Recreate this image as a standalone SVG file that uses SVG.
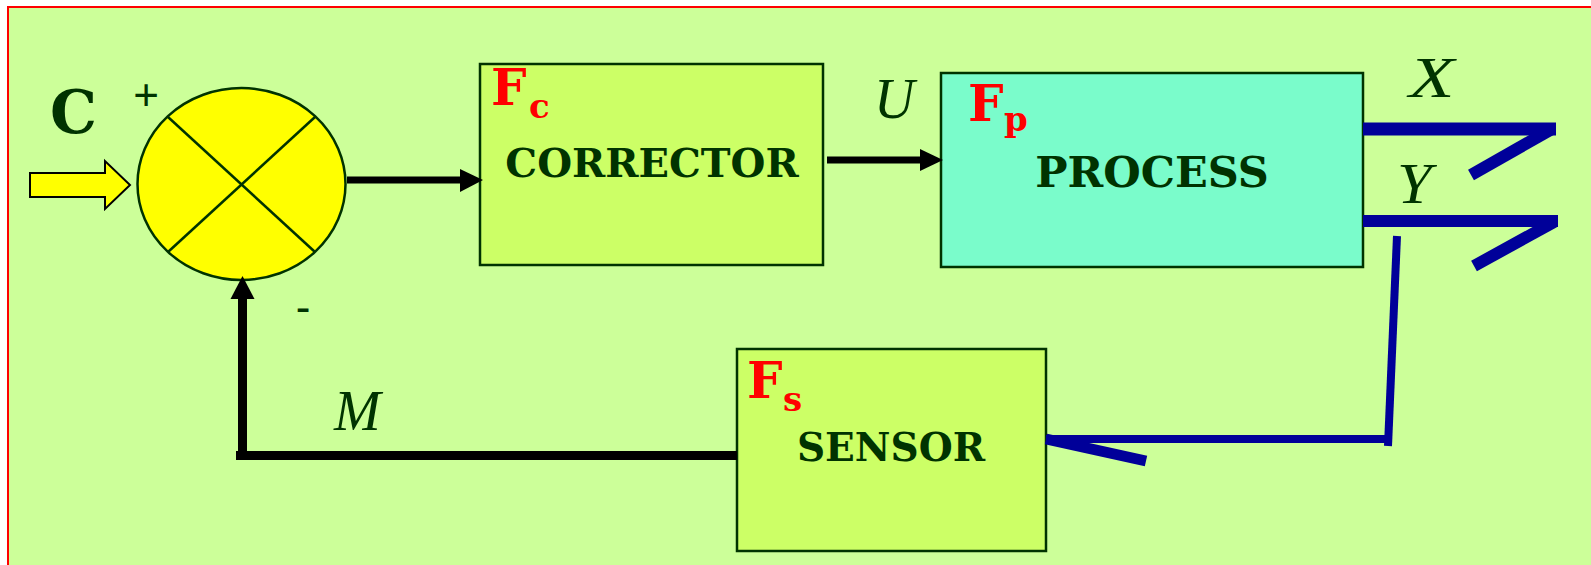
<svg xmlns="http://www.w3.org/2000/svg" width="1591" height="565" viewBox="0 0 1591 565">
<style>
.box{stroke:#003300;stroke-width:2.5}
.lbl{font-family:"DejaVu Serif","Liberation Serif",serif;font-weight:bold;fill:#003300}
.fn{font-family:"DejaVu Serif","Liberation Serif",serif;font-weight:bold;fill:#FF0000}
.var{font-family:"Liberation Serif","Times New Roman",serif;font-style:italic;fill:#003300;font-size:56px}
.sign{font-family:"Liberation Sans",Arial,sans-serif;fill:#003300}
.blk{stroke:#000000;fill:none}
.blu{stroke:#000099;fill:none}
</style>
<rect x="0" y="0" width="1591" height="565" fill="#FFFFFF"/>
<rect x="8" y="7" width="1600" height="600" fill="#CCFF99" stroke="#FF0000" stroke-width="2"/>

<g id="input">
<polygon points="30,173 105,173 105,161 130,185 105,209 105,197 30,197" fill="#FFFF00" stroke="#000000" stroke-width="2"/>
<text class="lbl" x="50" y="133" font-size="59">C</text>
<text class="sign" x="146" y="110" font-size="44" text-anchor="middle">+</text>
<text class="sign" x="303" y="322" font-size="44" text-anchor="middle">-</text>
</g>

<g id="summer">
<ellipse cx="241.5" cy="184" rx="104" ry="96" fill="#FFFF00" stroke="#003300" stroke-width="2.5"/>
<line x1="168" y1="117" x2="315" y2="252" stroke="#003300" stroke-width="2.5"/>
<line x1="315" y1="117" x2="168" y2="252" stroke="#003300" stroke-width="2.5"/>
</g>

<g id="corrector">
<rect class="box" x="480" y="64" width="343" height="201" fill="#CCFF66"/>
<text class="fn" x="491" y="105" font-size="50">F</text>
<text class="fn" x="529" y="118" font-size="34">c</text>
<text class="lbl" x="652" y="177" font-size="40" text-anchor="middle">CORRECTOR</text>
</g>

<g id="process">
<rect class="box" x="941" y="73" width="422" height="194" fill="#7AFCCB"/>
<text class="fn" x="968" y="121" font-size="50">F</text>
<text class="fn" x="1004" y="131" font-size="34">p</text>
<text class="lbl" x="1152" y="187" font-size="43" text-anchor="middle">PROCESS</text>
</g>

<g id="sensor">
<rect class="box" x="737" y="349" width="309" height="202" fill="#CCFF66"/>
<text class="fn" x="747" y="398" font-size="50">F</text>
<text class="fn" x="783" y="411" font-size="34">s</text>
<text class="lbl" x="891" y="461" font-size="39" text-anchor="middle">SENSOR</text>
</g>

<g id="labels">
<text class="var" x="874" y="118">U</text>
<text class="var" transform="translate(1409,97) scale(1.33,1)" x="0" y="0">X</text>
<text class="var" transform="translate(1397,203) scale(1.11,1)" x="0" y="0">Y</text>
<text class="var" x="334" y="430">M</text>
</g>

<g id="connectors">
<line class="blk" x1="347" y1="180" x2="462" y2="180" stroke-width="7"/>
<polygon points="460,169 483,180 460,192" fill="#000000"/>
<line class="blk" x1="827" y1="160" x2="922" y2="160" stroke-width="7"/>
<polygon points="920,149 943,160 920,171" fill="#000000"/>
<polyline class="blk" points="737,455.5 242.5,455.5 242.5,297" stroke-width="9" stroke-linejoin="miter"/>
<line x1="236" y1="455.5" x2="247" y2="455.5" stroke="#000000" stroke-width="9"/>
<polygon points="230.5,299 242.5,276 254.5,299" fill="#000000"/>

<line class="blu" x1="1363" y1="129" x2="1556" y2="129" stroke-width="13"/>
<line class="blu" x1="1552" y1="129" x2="1471" y2="175" stroke-width="12"/>
<line class="blu" x1="1363" y1="221" x2="1558" y2="221" stroke-width="12"/>
<line class="blu" x1="1554" y1="222" x2="1474" y2="266" stroke-width="12"/>
<line class="blu" x1="1397" y1="236" x2="1388" y2="446" stroke-width="8"/>
<line class="blu" x1="1391" y1="439" x2="1046" y2="439" stroke-width="8"/>
<line class="blu" x1="1046" y1="439" x2="1146" y2="461" stroke-width="11"/>
</g>
</svg>
